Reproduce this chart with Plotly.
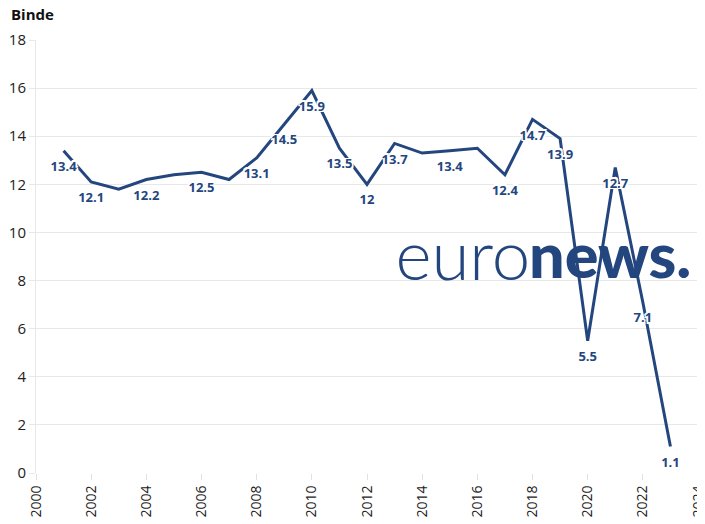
import plotly.graph_objects as go

years = list(range(2001, 2024))
values = [13.4, 12.1, 11.8, 12.2, 12.4, 12.5, 12.2, 13.1, 14.5, 15.9, 13.5, 12.0,
          13.7, 13.3, 13.4, 13.5, 12.4, 14.7, 13.9, 5.5, 12.7, 7.1, 1.1]
labels = ["13.4", "12.1", "", "12.2", "", "12.5", "", "13.1", "14.5", "15.9", "13.5", "12",
          "13.7", "", "13.4", "", "12.4", "14.7", "13.9", "5.5", "12.7", "7.1", "1.1"]
x_ticks = list(range(2000, 2025, 2))
y_ticks = list(range(0, 19, 2))

LINE = "#24467f"
halo = ", ".join(f"{dx}px {dy}px 0 white" for dx in (-1.5, 0, 1.5) for dy in (-1.5, 0, 1.5) if dx or dy)

fig = go.Figure()
# logo (as text, drawn under the line)
fig.add_trace(go.Scatter(
    x=[2017.92], y=[8.75], mode="text", text=["euro"], textposition="middle left",
    textfont=dict(family="Lato", size=69, color=LINE, weight=300),
    hoverinfo="skip", showlegend=False, cliponaxis=False))
fig.add_trace(go.Scatter(
    x=[2017.87], y=[8.75], mode="text", text=["news."], textposition="middle right",
    textfont=dict(family="Lato", size=63, color=LINE, weight=900),
    hoverinfo="skip", showlegend=False, cliponaxis=False))

fig.add_trace(go.Scatter(
    x=years, y=values, mode="lines+markers+text", text=labels, textposition="bottom center",
    line=dict(color=LINE, width=3),
    marker=dict(size=15, color="rgba(0,0,0,0)"),
    textfont=dict(family="Open Sans", size=13, color=LINE, weight="bold", shadow=halo),
    showlegend=False, cliponaxis=False))

# page body has an 8px margin: size figure so the plot lands where the reference has it
fig.update_layout(
    width=697, height=516,
    margin=dict(l=28, r=7, t=32, b=51),
    paper_bgcolor="white", plot_bgcolor="white",
    font=dict(family="Open Sans", color="#222"),
    annotations=[dict(text="<b>Binde</b>", xref="paper", yref="paper", x=-0.041, y=1.06,
                      xanchor="left", yanchor="middle", showarrow=False,
                      font=dict(family="Open Sans", size=15, color="#111"))],
)
fig.update_xaxes(range=[2000, 2024], tickmode="array", tickvals=x_ticks,
                 ticktext=[str(t) for t in x_ticks], tickangle=-90,
                 showgrid=False, zeroline=False, showline=False,
                 ticks="outside", ticklen=6, tickcolor="#e0e0e0",
                 ticklabeloverflow="allow",
                 tickfont=dict(size=14, color="#222"), automargin=False)
fig.update_yaxes(range=[0, 18], tickmode="array", tickvals=y_ticks,
                 showgrid=True, gridcolor="#e8e8e8", zeroline=False,
                 showline=True, linecolor="#e8e8e8",
                 ticks="outside", ticklen=6, tickcolor="#e8e8e8",
                 tickfont=dict(size=15, color="#222"), automargin=False)

fig.write_html("out.html")
